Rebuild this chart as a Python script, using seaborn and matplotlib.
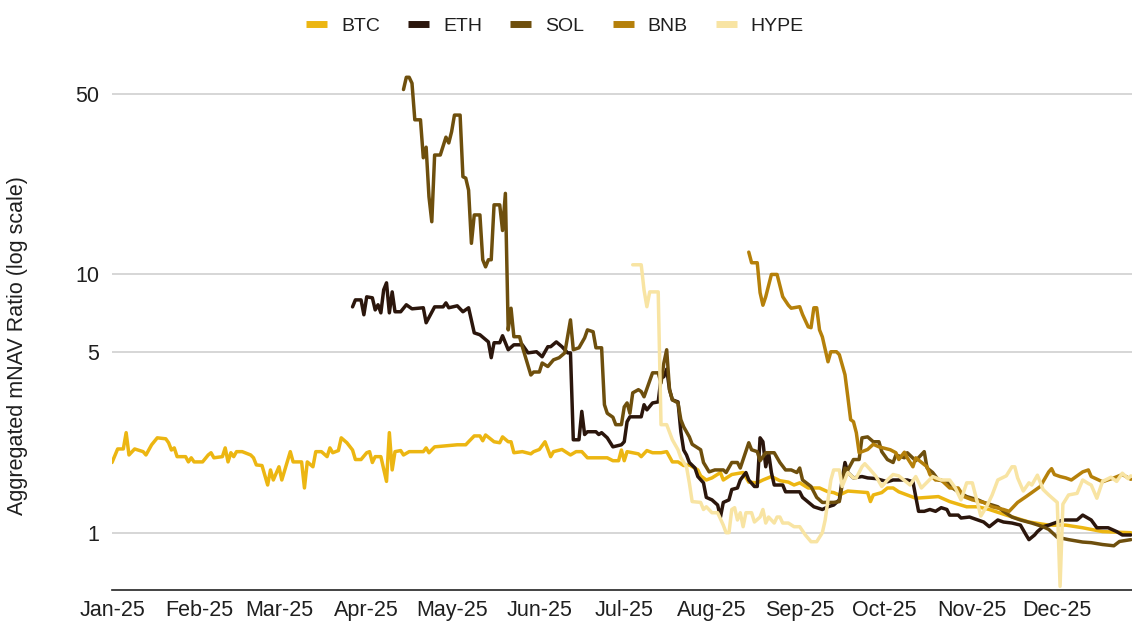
import pandas as pd
import matplotlib
matplotlib.use('Agg')
import matplotlib.pyplot as plt
from matplotlib.ticker import NullLocator
import seaborn as sns

# days counted from 1 Jan 2025, values = aggregated mNAV ratio
start = pd.Timestamp('2025-01-01')

btc_day = [0, 2, 4, 5, 6, 8, 11, 12, 14, 16, 19, 20, 21, 22, 23, 26, 27, 28, 29, 32,
           34, 35, 36, 39, 40, 41, 42, 43, 44, 46, 49, 50, 51, 53, 55, 56, 57, 59, 60, 63,
           64, 67, 68, 69, 71, 72, 74, 76, 77, 78, 80, 81, 83, 85, 86, 88, 90, 91, 92, 93,
           95, 97, 98, 99, 100, 102, 103, 105, 110, 111, 112, 114, 122, 125, 126, 128, 130, 131, 132, 135,
           137, 138, 140, 141, 142, 145, 148, 149, 151, 153, 155, 156, 159, 162, 164, 166, 168, 175, 177, 179,
           180, 181, 182, 186, 187, 189, 191, 194, 196, 198, 200, 202, 204, 207, 208, 210, 212, 215, 216, 219,
           223, 225, 228, 230, 233, 236, 239, 241, 243, 246, 250, 253, 255, 257, 260, 267, 268, 269, 272, 274,
           276, 278, 284, 292, 296, 302, 306, 310, 316, 324, 331, 337, 343, 350, 360]
btc_val = [1.87, 2.11, 2.11, 2.44, 2.00, 2.11, 2.06, 2.00, 2.19, 2.33, 2.31, 2.23, 2.09, 2.13, 1.97, 1.97, 1.88, 1.95, 1.88, 1.88,
           2.00, 2.04, 1.95, 1.97, 2.13, 1.88, 2.04, 1.97, 2.06, 2.06, 2.00, 1.95, 1.83, 1.82, 1.53, 1.75, 1.60, 1.80, 1.60, 2.06,
           1.88, 1.88, 1.49, 1.88, 1.80, 2.06, 2.06, 1.97, 2.13, 2.04, 2.08, 2.33, 2.23, 2.09, 1.92, 1.92, 2.04, 2.06, 1.87, 1.97,
           1.97, 1.58, 2.44, 1.75, 2.06, 2.08, 2.00, 2.06, 2.06, 2.13, 2.04, 2.15, 2.19, 2.19, 2.25, 2.37, 2.37, 2.27, 2.39, 2.25,
           2.23, 2.35, 2.25, 2.25, 2.04, 2.06, 2.02, 2.06, 2.10, 2.25, 1.97, 2.06, 2.10, 2.00, 2.06, 2.06, 1.95, 1.95, 1.90, 1.90,
           2.09, 1.90, 2.06, 2.02, 1.97, 2.08, 2.04, 2.04, 2.06, 1.88, 1.88, 1.82, 1.83, 1.75, 1.66, 1.60, 1.63, 1.71, 1.60, 1.68,
           1.71, 1.57, 1.56, 1.60, 1.65, 1.59, 1.57, 1.53, 1.56, 1.49, 1.49, 1.44, 1.43, 1.40, 1.45, 1.43, 1.32, 1.40, 1.43, 1.49,
           1.49, 1.44, 1.36, 1.38, 1.32, 1.26, 1.26, 1.23, 1.17, 1.10, 1.07, 1.07, 1.045, 1.01, 1.00]

eth_day = [85, 86, 88, 89, 90, 92, 93, 94, 95, 96, 97, 98, 99, 100, 102, 104, 106, 110, 111, 114,
           117, 118, 119, 122, 124, 126, 128, 130, 133, 134, 135, 137, 138, 140, 142, 145, 147, 150, 152, 154,
           155, 157, 159, 161, 162, 163, 165, 166, 167, 168, 171, 172, 173, 175, 177, 180, 181, 182, 183, 187,
           188, 189, 191, 193, 194, 195, 196, 197, 198, 200, 201, 202, 203, 204, 206, 207, 209, 210, 212, 214,
           215, 216, 218, 219, 221, 222, 224, 225, 227, 228, 229, 230, 231, 232, 233, 234, 237, 238, 243, 244,
           248, 251, 253, 255, 257, 258, 259, 260, 262, 265, 267, 270, 274, 276, 278, 281, 283, 285, 287, 289,
           291, 293, 295, 296, 299, 300, 303, 306, 308, 310, 313, 315, 318, 321, 323, 324, 326, 327, 329, 331,
           336, 341, 343, 346, 348, 352, 355, 357, 360]
eth_val = [7.49, 7.97, 7.97, 6.98, 8.19, 8.12, 7.29, 7.63, 7.10, 8.72, 9.28, 7.10, 8.56, 7.17, 7.17, 7.63, 7.36, 7.43, 6.50, 7.49,
           7.49, 7.76, 7.43, 7.56, 7.17, 7.43, 5.94, 5.84, 5.48, 4.76, 5.44, 5.44, 5.79, 5.11, 5.34, 5.34, 4.97, 5.02, 4.80, 5.25,
           5.25, 5.48, 5.25, 4.97, 4.97, 2.29, 2.29, 2.95, 2.40, 2.46, 2.46, 2.40, 2.44, 2.33, 2.15, 2.19, 2.25, 2.69, 2.81, 2.81,
           3.13, 2.99, 3.18, 3.21, 3.97, 4.02, 4.30, 3.58, 3.27, 3.21, 2.46, 2.09, 2.00, 1.87, 1.78, 1.65, 1.56, 1.37, 1.34, 1.28,
           1.15, 1.31, 1.34, 1.47, 1.49, 1.60, 1.71, 1.60, 1.51, 1.51, 2.33, 2.25, 1.80, 2.04, 1.71, 1.53, 1.53, 1.44, 1.44, 1.37,
           1.26, 1.23, 1.26, 1.28, 1.34, 1.60, 1.87, 1.71, 1.63, 1.65, 1.63, 1.62, 1.575, 1.60, 1.60, 1.60, 1.575, 1.21, 1.21, 1.23,
           1.21, 1.25, 1.23, 1.17, 1.17, 1.14, 1.15, 1.12, 1.10, 1.055, 1.12, 1.10, 1.09, 1.07, 0.98, 0.94, 0.98, 1.01, 1.055, 1.07,
           1.12, 1.12, 1.17, 1.12, 1.045, 1.045, 1.01, 0.98, 0.98]

sol_day = [103, 104, 105, 106, 107, 109, 110, 111, 112, 113, 114, 116, 118, 119, 120, 121, 123, 124, 125, 126,
           127, 128, 130, 131, 132, 133, 134, 135, 137, 138, 139, 140, 141, 142, 144, 145, 148, 149, 151, 152,
           154, 156, 158, 160, 162, 163, 165, 167, 168, 170, 171, 173, 174, 175, 177, 178, 180, 181, 182, 183,
           184, 186, 187, 188, 191, 193, 194, 195, 196, 197, 198, 200, 201, 202, 204, 205, 208, 209, 211, 213,
           216, 217, 219, 221, 222, 225, 226, 228, 229, 231, 234, 236, 238, 240, 242, 243, 244, 247, 249, 251,
           255, 257, 259, 260, 262, 264, 265, 267, 269, 271, 272, 274, 276, 277, 280, 281, 284, 287, 288, 290,
           292, 295, 297, 299, 302, 306, 308, 313, 315, 318, 321, 325, 329, 331, 334, 338, 343, 346, 350, 354,
           356, 360]
sol_val = [52.0, 58.0, 58.0, 55.0, 39.7, 39.7, 28.3, 31.1, 20.0, 16.0, 29.0, 29.0, 34.0, 32.3, 35.7, 41.4, 41.4, 23.9, 23.6, 21.2,
           13.2, 17.0, 17.0, 11.4, 10.7, 11.4, 11.4, 18.6, 18.6, 14.8, 20.6, 6.1, 7.4, 5.74, 5.74, 5.25, 4.08, 4.19, 4.19, 4.54,
           4.40, 4.67, 4.76, 4.97, 6.67, 5.11, 5.2, 5.68, 6.1, 6.0, 5.2, 5.2, 3.13, 2.9, 2.8, 2.62, 2.62, 3.07, 3.18, 2.9,
           3.48, 3.58, 3.52, 3.36, 4.16, 4.16, 3.8, 4.54, 5.11, 3.58, 3.27, 3.18, 2.74, 2.57, 2.35, 2.2, 2.095, 1.87, 1.72, 1.75,
           1.75, 1.71, 1.87, 1.87, 1.78, 2.23, 2.095, 2.06, 1.90, 2.04, 2.04, 1.87, 1.75, 1.75, 1.71, 1.78, 1.60, 1.51, 1.37, 1.31,
           1.31, 1.32, 1.78, 1.75, 1.92, 1.92, 2.33, 2.35, 2.25, 2.25, 2.06, 1.92, 1.87, 2.00, 1.95, 2.04, 1.90, 2.06, 1.78, 1.71,
           1.60, 1.575, 1.49, 1.44, 1.38, 1.34, 1.31, 1.26, 1.21, 1.15, 1.12, 1.09, 1.055, 1.03, 0.96, 0.94, 0.92, 0.915, 0.90, 0.89,
           0.925, 0.94]

bnb_day = [225, 226, 228, 229, 230, 231, 233, 235, 237, 239, 240, 243, 244, 246, 247, 248, 249, 250, 251, 253,
           254, 256, 257, 259, 260, 261, 262, 263, 264, 267, 269, 271, 275, 277, 278, 280, 281, 283, 284, 288,
           289, 291, 293, 296, 299, 301, 304, 308, 311, 315, 317, 320, 323, 325, 328, 331, 332, 333, 335, 337,
           339, 343, 345, 346, 350, 354, 357, 360]
bnb_val = [12.2, 11.1, 11.1, 8.5, 7.6, 8.2, 10.0, 10.0, 8.2, 7.6, 7.4, 7.5, 7.0, 6.27, 6.22, 7.43, 7.43, 6.1, 5.73, 4.59,
           5.02, 5.02, 4.89, 4.09, 3.36, 2.74, 2.69, 2.44, 2.04, 2.10, 2.20, 2.15, 2.095, 2.04, 1.92, 2.05, 1.95, 1.80, 1.95, 1.80,
           1.68, 1.60, 1.60, 1.49, 1.49, 1.38, 1.34, 1.31, 1.26, 1.23, 1.21, 1.31, 1.38, 1.43, 1.51, 1.72, 1.77, 1.68, 1.65, 1.63,
           1.60, 1.72, 1.75, 1.65, 1.575, 1.63, 1.68, 1.61]

hype_day = [184, 187, 188, 189, 190, 193, 194, 196, 198, 200, 201, 203, 204, 205, 208, 209, 210, 212, 214, 216,
            217, 218, 219, 220, 221, 222, 223, 224, 226, 227, 229, 230, 231, 232, 234, 235, 236, 237, 239, 241,
            243, 245, 247, 249, 251, 252, 253, 254, 255, 257, 258, 260, 262, 263, 265, 266, 268, 270, 272, 274,
            276, 278, 282, 284, 286, 290, 293, 296, 298, 300, 302, 304, 307, 309, 311, 313, 316, 318, 319, 320,
            322, 324, 325, 327, 329, 331, 334, 335, 336, 338, 341, 343, 345, 346, 348, 350, 353, 355, 357, 359,
            360]
hype_val = [10.9, 10.9, 8.7, 7.5, 8.56, 8.56, 2.62, 2.62, 2.29, 2.095, 1.95, 1.80, 1.56, 1.32, 1.31, 1.23, 1.26, 1.195, 1.195, 1.07,
            1.00, 1.00, 1.23, 1.25, 1.12, 1.195, 1.055, 1.195, 1.195, 1.10, 1.15, 1.23, 1.09, 1.15, 1.09, 1.15, 1.15, 1.09, 1.09, 1.055,
            1.055, 0.98, 0.923, 0.923, 1.00, 1.12, 1.34, 1.60, 1.75, 1.75, 1.51, 1.71, 1.63, 1.63, 1.80, 1.85, 1.75, 1.65, 1.51, 1.60,
            1.68, 1.66, 1.53, 1.65, 1.49, 1.65, 1.60, 1.60, 1.49, 1.34, 1.56, 1.56, 1.16, 1.26, 1.40, 1.60, 1.66, 1.80, 1.80, 1.63,
            1.45, 1.56, 1.53, 1.67, 1.47, 1.40, 1.31, 0.62, 1.29, 1.40, 1.42, 1.60, 1.55, 1.53, 1.36, 1.58, 1.64, 1.58, 1.70, 1.62,
            1.66]

assets = ['BTC', 'ETH', 'SOL', 'BNB', 'HYPE']
colors = {'BTC': '#ECB612', 'ETH': '#2B160C', 'SOL': '#6E4F0D', 'BNB': '#B5800A', 'HYPE': '#F8E4A3'}

y_ticks = [1, 5, 10, 50]
month_starts = pd.date_range('2025-01-01', '2025-12-01', freq='MS')
month_labels = [m.strftime('%b-%y') for m in month_starts]

series = {'BTC': (btc_day, btc_val), 'ETH': (eth_day, eth_val), 'SOL': (sol_day, sol_val),
          'BNB': (bnb_day, bnb_val), 'HYPE': (hype_day, hype_val)}
frames = []
for name, (d, v) in series.items():
    frames.append(pd.DataFrame({'date': start + pd.to_timedelta(d, unit='D'), 'mnav': v, 'asset': name}))
df = pd.concat(frames, ignore_index=True)

sns.set_style('white')
plt.rcParams['font.family'] = ['Liberation Sans', 'DejaVu Sans']
text_col = '#1f1f1f'

fig = plt.figure(figsize=(11.32, 6.25), dpi=100)
ax = fig.add_axes([112 / 1132, 1 - 590 / 625, 1020 / 1132, 525.5 / 625])

sns.lineplot(data=df, x='date', y='mnav', hue='asset', hue_order=assets, palette=colors,
             linewidth=2.5, estimator=None, ax=ax)

ax.set_yscale('log')
ax.set_ylim(0.6, 65)
ax.set_xlim(start, pd.Timestamp('2025-12-27 10:00'))
ax.set_yticks(y_ticks)
ax.set_yticklabels([str(t) for t in y_ticks])
ax.yaxis.set_minor_locator(NullLocator())
ax.set_xticks(month_starts)
ax.set_xticklabels(month_labels)
ax.tick_params(axis='y', length=0, pad=9, labelsize=15.5, labelcolor=text_col)
ax.tick_params(axis='x', length=0, pad=7, labelsize=15.5, labelcolor=text_col)
ax.set_xlabel('')
ax.set_ylabel('')
ax.grid(axis='y', color='#cccccc', linewidth=1.1)
ax.grid(axis='x', visible=False)
for s in ['left', 'top', 'right']:
    ax.spines[s].set_visible(False)
ax.spines['bottom'].set_color('#222222')
ax.spines['bottom'].set_linewidth(1.2)

fig.text(18 / 1132, 1 - 346 / 625, 'Aggregated mNAV Ratio (log scale)', rotation=90,
         ha='center', va='center', fontsize=15.5, color=text_col)

sns.move_legend(ax, 'center', bbox_to_anchor=((555 - 112) / 1020, (590 - 26) / 525.5), ncol=5,
                frameon=False, title=None, fontsize=14, handlelength=1.08, handletextpad=0.72,
                columnspacing=1.45)
leg = ax.get_legend()
for h in leg.legend_handles:
    h.set_linewidth(5)
    h.set_solid_capstyle('butt')
for t in leg.get_texts():
    t.set_color(text_col)

fig.savefig('out.png', dpi=100)
